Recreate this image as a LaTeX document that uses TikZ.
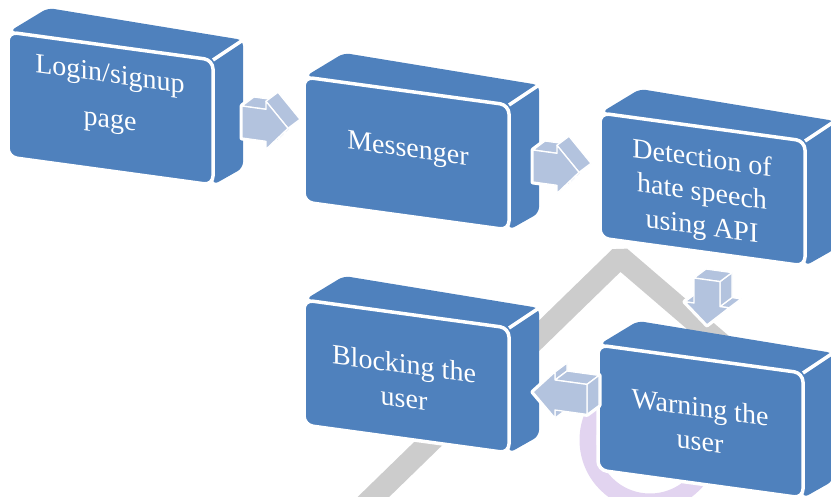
\documentclass[tikz,border=0pt]{standalone}
\usepackage{fontspec}
\setmainfont{Liberation Serif}
\definecolor{boxblue}{RGB}{79,129,189}
\definecolor{arrowblue}{RGB}{179,195,222}
\definecolor{wmgrey}{RGB}{204,204,204}
\definecolor{lilac}{RGB}{226,212,240}
\tikzset{
  boxface/.style={fill=boxblue, draw=white, line width=3.5pt, rounded corners=9pt, line join=round},
  boxback/.style={fill=boxblue, rounded corners=6pt},
  arrface/.style={fill=arrowblue, draw=white, line width=1.3pt, line join=round},
  arrhalo/.style={fill=white, draw=white, line width=5pt, line join=round},
  lbl/.style={text=white, font=\fontsize{28}{34}\selectfont, align=center, yslant=-0.137, inner sep=0pt},
}
\newcommand\threedbox[2]{%
  \begin{scope}[shift={(#1,#2)}]
    \fill[boxback] (2,-1) -- (40,-24) -- (235,8) -- (235,136) -- (205,153) -- (205,28) -- cycle;
    \draw[white, line width=3.5pt] (205,28) -- (235,8);
    \draw[boxface] (0,0) -- (205,28) -- (205,153) -- (0,125) -- cycle;
  \end{scope}}
\newcommand\arrowright[2]{%
  \begin{scope}[shift={(#1,#2)}]
    \path[arrhalo] (0,0) -- (12,-9) -- (36,-13.7) -- (58,13.3) -- (36,34.3) -- (24,43.3) -- (24,35.3) -- (0,32) -- cycle;
    \draw[arrface] (46,22.3) -- (24,43.3) -- (36,34.3) -- (58,13.3) -- cycle;
    \draw[arrface] (0,0) -- (24,3.3) -- (36,-5.7) -- (12,-9) -- cycle;
    \draw[arrface] (24,-4.7) -- (46,22.3) -- (58,13.3) -- (36,-13.7) -- cycle;
    \draw[arrface] (0,0) -- (24,3.3) -- (24,-4.7) -- (46,22.3) -- (24,43.3) -- (24,35.3) -- (0,32) -- cycle;
  \end{scope}}
\newcommand\arrowdown[2]{%
  \begin{scope}[shift={(#1,#2)}]
    \path[arrhalo] (0,0) -- (12,-9) -- (38,-5.4) -- (38,19.6) -- (47,20.8) -- (13,46.8) -- (-9,23.8) -- (3,14.8) -- (0,25) -- cycle;
    \draw[arrface] (-9,23.8) -- (0,25) -- (12,16) -- (3,14.8) -- cycle;
    \draw[arrface] (35,29.8) -- (13,46.8) -- (25,37.8) -- (47,20.8) -- cycle;
    \draw[arrface] (26,28.6) -- (35,29.8) -- (47,20.8) -- (38,19.6) -- cycle;
    \draw[arrface] (26,3.6) -- (26,28.6) -- (38,19.6) -- (38,-5.4) -- cycle;
    \draw[arrface] (0,0) -- (26,3.6) -- (38,-5.4) -- (12,-9) -- cycle;
    \draw[arrface] (0,0) -- (26,3.6) -- (26,28.6) -- (35,29.8) -- (13,46.8) -- (-9,23.8) -- (0,25) -- cycle;
  \end{scope}}
\newcommand\arrowleft[2]{%
  \begin{scope}[shift={(#1,#2)}]
    \path[arrhalo] (0,15) -- (22,-5) -- (34,-14) -- (34,-6) -- (66,-1.6) -- (66,28.4) -- (54,37.4) -- (22,33) -- (22,41) -- cycle;
    \draw[arrface] (22,33) -- (22,41) -- (34,32) -- (34,24) -- cycle;
    \draw[arrface] (22,-5) -- (22,3) -- (34,-6) -- (34,-14) -- cycle;
    \draw[arrface] (22,3) -- (54,7.4) -- (66,-1.6) -- (34,-6) -- cycle;
    \draw[arrface] (54,7.4) -- (54,37.4) -- (66,28.4) -- (66,-1.6) -- cycle;
    \draw[arrface] (0,15) -- (22,-5) -- (22,3) -- (54,7.4) -- (54,37.4) -- (22,33) -- (22,41) -- cycle;
  \end{scope}}
\begin{document}
\begin{tikzpicture}[x=1pt, y=-1pt]
  \useasboundingbox (0,0) rectangle (831,497);
  \clip (0,0) rectangle (831,497);
  % watermark
  \draw[wmgrey, line width=22pt, line join=bevel] (360,510) -- (620,257) -- (740,360);
  \draw[lilac, line width=17pt] (650,440) circle (62);
  % boxes
  \threedbox{8}{32}
  \threedbox{304}{77}
  \threedbox{600}{113}
  \threedbox{598}{345}
  \threedbox{304}{300}
  % arrows
  \arrowright{242}{106}
  \arrowright{533}{150}
  \arrowdown{694}{278}
  \arrowleft{533}{377}
  % labels
  \node[lbl] (b1) at (110,99) {Login/signup\\[11pt]page};
  \node[lbl] (b2) at (408,151) {Messenger};
  \node[lbl] (b3) at (702,194) {Detection of\\hate speech\\using API};
  \node[lbl] (b4) at (700,424) {Warning the\\user};
  \node[lbl] (b5) at (404,381) {Blocking the\\user};
\end{tikzpicture}
\end{document}
